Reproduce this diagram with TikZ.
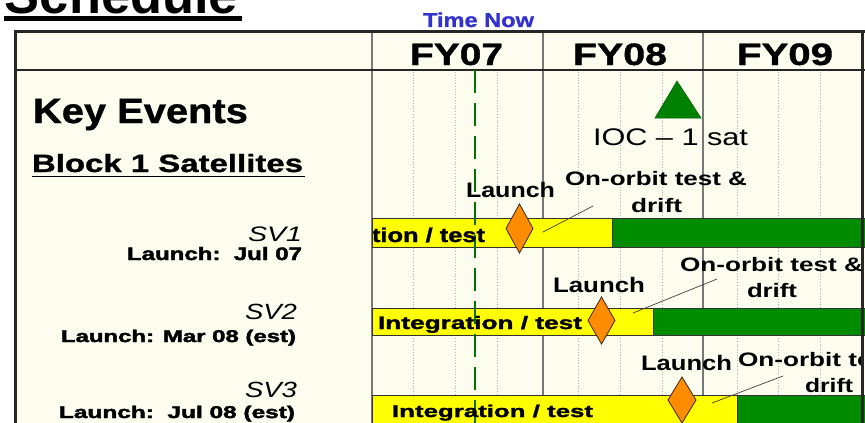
\documentclass[tikz,border=0pt]{standalone}
\usepackage{fontspec}
\setmainfont{Liberation Sans}
\usepackage{graphicx}
\definecolor{cream}{RGB}{253,253,239}
\definecolor{tnblue}{RGB}{51,51,204}
\definecolor{bargreen}{RGB}{0,140,0}
\definecolor{trigreen}{RGB}{0,128,0}
\definecolor{dorange}{RGB}{255,140,0}
\definecolor{barylw}{RGB}{255,255,0}
\definecolor{colline}{RGB}{120,120,120}
\newcommand\fitw[2]{\resizebox{#1pt}{\height}{#2}}
\newcommand\fsz[1]{\fontsize{#1}{#1}\selectfont}
\newcommand\heavy[1]{\bfseries\addfontfeatures{FakeBold=#1}}
\begin{document}
\begin{tikzpicture}[x=1pt,y=-1pt,
  txt/.style={inner sep=0pt, outer sep=0pt, anchor=base west},
  rtxt/.style={inner sep=0pt, outer sep=0pt, anchor=base east},
  ybar/.style={fill=barylw, draw=black!80, line width=0.8pt},
  gbar/.style={fill=bargreen, draw=black!80, line width=0.8pt},
  diam/.style={fill=dorange, draw=black!70!brown, line width=0.8pt},
  leader/.style={draw=black!75, line width=0.7pt},
  colrule/.style={draw=colline, line width=1.2pt},
  qrule/.style={draw=black!30, line width=0.8pt, dotted},
]
\useasboundingbox (0,0) rectangle (865,423);
\clip (0,0) rectangle (865,423);
\fill[white] (0,0) rectangle (865,423);
% frame background
\fill[cream] (14,30) rectangle (865,430);

% title (cut off at the top, as in the reference)
\node[txt] (title) at (5,13) {\fsz{53}\bfseries\fitw{233}{Schedule}};
\fill (4,16) rectangle (242,21);

% Time Now
\node[txt, text=tnblue] (tnow) at (423,27) {\fsz{20}\heavy{1}\fitw{111}{Time Now}};

% quarter dotted rules
\foreach \q in {413,455,497,578,620,662,737,778,820}
  \draw[qrule] (\q,72) -- (\q,430);
% column rules
\foreach \c in {372,543,703}
  \draw[colrule] (\c,32) -- (\c,430);
% header rule
\draw[draw=black!85, line width=1.3pt] (15,70) -- (865,70);

% headers
\node[txt] (fy07) at (410,65) {\fsz{31}\heavy{1}\fitw{93}{FY07}};
\node[txt] (fy08) at (573,65) {\fsz{31}\heavy{1}\fitw{94}{FY08}};
\node[txt] (fy09) at (737,65) {\fsz{31}\heavy{1}\fitw{96}{FY09}};

% left panel
\node[txt] (key) at (33,123) {\fsz{35}\heavy{1}\fitw{215}{Key Events}};
\node[txt] (blk) at (32,172) {\fsz{25}\heavy{1}\fitw{271}{Block 1 Satellites}};
\draw[line width=1.8pt] (32,176.5) -- (305,176.5);
\node[rtxt] (sv1) at (302,241) {\fsz{21}\itshape\fitw{54}{SV1}};
\node[rtxt] (sv1l) at (302,260) {\fsz{18}\heavy{2}\fitw{175}{Launch:\ \ Jul 07}};
\node[rtxt] (sv2) at (297,319) {\fsz{22}\itshape\fitw{52}{SV2}};
\node[rtxt] (sv2l) at (296,342) {\fsz{17}\heavy{2}\fitw{235}{Launch: Mar 08 (est)}};
\node[rtxt] (sv3) at (297,397) {\fsz{22}\itshape\fitw{52}{SV3}};
\node[rtxt] (sv3l) at (295,418) {\fsz{17}\heavy{2}\fitw{236}{Launch:\ \ Jul 08 (est)}};

% milestone IOC
\draw[fill=trigreen, draw=black!60!green, line width=0.6pt] (677,81) -- (701,118) -- (655,118) -- cycle;
\coordinate (tri) at (677,100);
\node[txt] (ioc) at (593,145) {\fsz{24}\fitw{155}{IOC -- 1 sat}};

% bars
\draw[ybar] (372,218) rectangle (612,247);
\draw[gbar] (612,218) rectangle (866,247);
\draw[ybar] (372,308) rectangle (653,335);
\draw[gbar] (653,308) rectangle (866,335);
\draw[ybar] (372,395) rectangle (737,430);
\draw[gbar] (737,395) rectangle (866,430);

% time-now line
\draw[draw=trigreen!90!black, line width=2.6pt, dash pattern=on 23pt off 10pt] (475,70) -- (475,430);

% bar labels
\begin{scope}
\clip (373,200) rectangle (866,430);
\node[txt] (b1) at (372,242) {\fsz{20}\heavy{1.5}\fitw{113}{tion / test}};
\end{scope}
\node[txt] (b2) at (378,329) {\fsz{18}\heavy{1.5}\fitw{204}{Integration / test}};
\node[txt] (b3) at (392,417) {\fsz{17}\heavy{1.5}\fitw{201}{Integration / test}};

% diamonds
\coordinate (d1) at (519.5,228.5);
\draw[diam] (506,228.5) -- (519.5,204) -- (533,228.5) -- (519.5,253) -- cycle;
\coordinate (d2) at (601.5,320.5);
\draw[diam] (588,320.5) -- (601.5,297) -- (615,320.5) -- (601.5,344) -- cycle;
\coordinate (d3) at (682,400);
\draw[diam] (668,400) -- (682,377) -- (696,400) -- (682,423) -- cycle;

% launch labels
\node[txt] (la1) at (466,197) {\fsz{21}\bfseries\fitw{89}{Launch}};
\node[txt] (la2) at (553,292) {\fsz{21}\bfseries\fitw{92}{Launch}};
\node[txt] (la3) at (641,370) {\fsz{21}\bfseries\fitw{91}{Launch}};

% on-orbit labels
\begin{scope}
\clip (0,0) rectangle (862,430);
\node[txt] (oo1) at (565,185) {\fsz{19.5}\bfseries\fitw{182}{On-orbit test \&}};
\node[txt] (dr1) at (631,212) {\fsz{19.5}\bfseries\fitw{51}{drift}};
\node[txt] (oo2) at (680,271) {\fsz{19.5}\bfseries\fitw{183}{On-orbit test \&}};
\node[txt] (dr2) at (747,297) {\fsz{19.5}\bfseries\fitw{50}{drift}};
\node[txt] (oo3) at (738,366) {\fsz{19.5}\bfseries\fitw{183}{On-orbit test \&}};
\node[txt] (dr3) at (805,392) {\fsz{19.5}\bfseries\fitw{48}{drift}};
\end{scope}

% leaders
\coordinate (l1a) at (543,232); \coordinate (l1b) at (593,206);
\coordinate (l2a) at (633,313); \coordinate (l2b) at (717,279);
\coordinate (l3a) at (712,403); \coordinate (l3b) at (783,376);
\draw[leader] (l1a) -- (l1b);
\draw[leader] (l2a) -- (l2b);
\draw[leader] (l3a) -- (l3b);

% frame borders
\draw[line width=3.5pt, draw=black!85] (15.5,30) -- (15.5,430);
\draw[line width=3pt, draw=black!85] (14,31.5) -- (866,31.5);
\draw[line width=3pt, draw=black!85] (862.5,30) -- (862.5,430);
\end{tikzpicture}
\end{document}
